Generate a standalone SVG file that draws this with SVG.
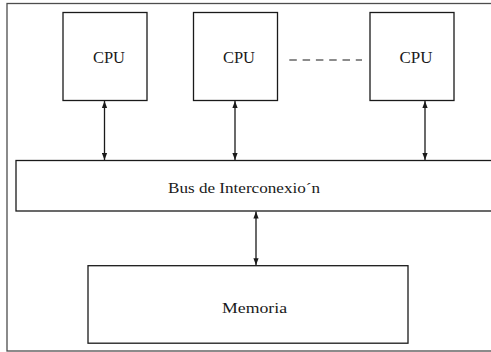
<svg xmlns="http://www.w3.org/2000/svg" width="491" height="352" viewBox="0 0 491 352">
  <style>
    .box { fill: #ffffff; stroke: #1a1a1a; stroke-width: 1.3; }
    .frame { fill: #ffffff; stroke: #4d4d4d; stroke-width: 1.3; }
    .label { font-family: "Liberation Serif", "Times New Roman", serif; fill: #1a1a1a; }
    .link { stroke: #1a1a1a; stroke-width: 1.3; fill: none; marker-start: url(#head); marker-end: url(#head); }
    .dots { stroke: #1a1a1a; stroke-width: 1.2; stroke-dasharray: 7.5 5.8; }
  </style>
  <defs>
    <marker id="head" viewBox="0 0 8 6" refX="8" refY="3" markerUnits="userSpaceOnUse" markerWidth="7" markerHeight="6" orient="auto-start-reverse">
      <path d="M0,0 L8,3 L0,6 Z" fill="#1a1a1a"/>
    </marker>
  </defs>

  <!-- outer frame -->
  <rect class="frame" x="7" y="3.5" width="495" height="347.5"/>

  <g id="cpu1">
    <rect class="box" x="63" y="12.5" width="84" height="88"/>
    <text class="label" x="109" y="63" font-size="16" text-anchor="middle" textLength="32" lengthAdjust="spacingAndGlyphs">CPU</text>
  </g>
  <g id="cpu2">
    <rect class="box" x="193.5" y="12.5" width="84" height="88"/>
    <text class="label" x="239" y="63" font-size="16" text-anchor="middle" textLength="32" lengthAdjust="spacingAndGlyphs">CPU</text>
  </g>
  <g id="cpu3">
    <rect class="box" x="370" y="12.5" width="84" height="88"/>
    <text class="label" x="416" y="63" font-size="16" text-anchor="middle" textLength="33" lengthAdjust="spacingAndGlyphs">CPU</text>
  </g>

  <g id="bus">
    <rect class="box" x="16" y="160.5" width="490" height="50.5"/>
    <text class="label" x="244" y="193" font-size="15" text-anchor="middle" textLength="152" lengthAdjust="spacingAndGlyphs">Bus de Interconexio´n</text>
  </g>

  <g id="memoria">
    <rect class="box" x="88" y="265.7" width="320" height="77.5"/>
    <text class="label" x="254.5" y="313" font-size="15" text-anchor="middle" textLength="65" lengthAdjust="spacingAndGlyphs">Memoria</text>
  </g>

  <g id="connectors">
    <line class="link" x1="104.5" y1="101" x2="104.5" y2="160"/>
    <line class="link" x1="235" y1="101" x2="235" y2="160"/>
    <line class="link" x1="425" y1="101" x2="425" y2="160"/>
    <line class="link" x1="256" y1="211.5" x2="256" y2="265.2"/>
    <line class="dots" x1="289.3" y1="60" x2="362" y2="60"/>
  </g>
</svg>
